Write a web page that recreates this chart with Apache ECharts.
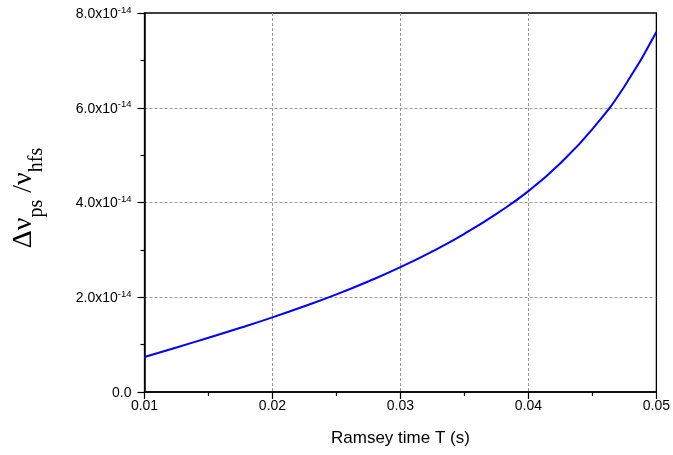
<!DOCTYPE html>
<html><head><meta charset="utf-8">
<script src="https://cdn.jsdelivr.net/npm/echarts@6/dist/echarts.min.js"></script>
<style>html,body{margin:0;padding:0;background:#fff}#c{width:673px;height:455px}</style>
</head><body><div id="c"></div>
<script>
var ramseyT = [0.01,0.0125,0.015,0.0175,0.02,0.0225,0.025,0.0275,0.03,0.0325,0.035,0.0375,0.04,0.0425,0.045,0.0475,0.05];
var shift = [0.74e-14,0.94e-14,1.145e-14,1.355e-14,1.575e-14,1.81e-14,2.06e-14,2.335e-14,2.635e-14,2.97e-14,3.34e-14,3.76e-14,4.24e-14,4.83e-14,5.55e-14,6.45e-14,7.60e-14];
var xTicks = ['0.01','0.02','0.03','0.04','0.05'];
var yTicks = ['0.0','2.0','4.0','6.0','8.0'];
var xName = 'Ramsey time T (s)';

var chart = echarts.init(document.getElementById('c'), null, {renderer:'canvas'});
var dashed = {show:true, showMinLine:false, showMaxLine:false, lineStyle:{color:'#999', type:[3,2], width:1}};
chart.setOption({
  animation:false,
  grid:{left:144.5, right:16, top:13, bottom:63, show:true, borderColor:'#000', borderWidth:1.3, backgroundColor:'transparent'},
  xAxis:{
    type:'value', min:0.01, max:0.05, interval:0.01,
    name:xName, nameLocation:'middle', nameGap:38,
    nameTextStyle:{fontFamily:'Liberation Sans', fontSize:17, color:'#000'},
    axisLine:{show:true, lineStyle:{color:'#000', width:1.5}},
    axisTick:{show:true, inside:false, length:7, lineStyle:{color:'#000', width:1.2}},
    minorTick:{show:true, splitNumber:2, length:4, lineStyle:{color:'#000', width:1.2}},
    axisLabel:{fontFamily:'Liberation Sans', fontSize:14, color:'#000', margin:7,
      formatter:function(v){ var i=Math.round((v-0.01)/0.01); return xTicks[i]!==undefined?xTicks[i]:''; }},
    splitLine:dashed
  },
  yAxis:{
    type:'value', min:0, max:8e-14, interval:2e-14,
    name:'{a|Δν}{s|ps}{a| /ν}{s|hfs}', nameLocation:'middle', nameGap:107, nameRotate:90,
    nameTextStyle:{padding:[0,0,0,9], rich:{
      a:{fontFamily:'Liberation Serif', fontSize:28, color:'#000', verticalAlign:'bottom', lineHeight:30},
      s:{fontFamily:'Liberation Serif', fontSize:20, color:'#000', verticalAlign:'bottom', lineHeight:30, padding:[0,0,-9,0]}
    }},
    axisLine:{show:true, lineStyle:{color:'#000', width:1.5}},
    axisTick:{show:true, inside:false, length:7, lineStyle:{color:'#000', width:1.2}},
    minorTick:{show:true, splitNumber:2, length:4, lineStyle:{color:'#000', width:1.2}},
    axisLabel:{fontFamily:'Liberation Sans', fontSize:14, color:'#000', margin:13,
      formatter:function(v){ var i=Math.round(v/2e-14); if(i===0) return '{m|'+yTicks[0]+'}'; return '{m|'+yTicks[i]+'x10}{sup|-14}'; },
      rich:{m:{fontFamily:'Liberation Sans', fontSize:14, color:'#000', verticalAlign:'bottom', lineHeight:16},
            sup:{fontFamily:'Liberation Sans', fontSize:9.5, color:'#000', verticalAlign:'top', lineHeight:16}}},
    splitLine:dashed
  },
  series:[{
    type:'line', smooth:0.5, showSymbol:false, symbol:'none',
    data: ramseyT.map(function(t,i){return [t, shift[i]];}),
    lineStyle:{color:'#0000ff', width:2}
  }]
});
</script></body></html>
